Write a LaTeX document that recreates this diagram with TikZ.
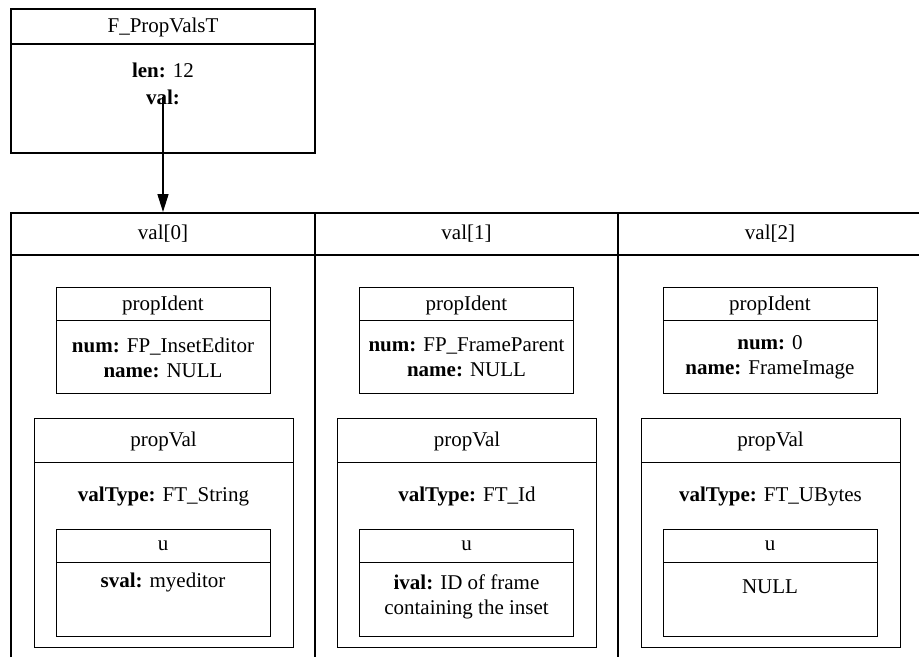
\documentclass[tikz,border=0pt]{standalone}
\usepackage{fontspec}
\setmainfont{Liberation Serif}
\usetikzlibrary{arrows.meta}
\begin{document}
\begin{tikzpicture}[x=1pt,y=-1pt]
\tikzstyle{arrow}=[draw,line width=1.5pt,-{Triangle[length=18pt,width=11pt]}]
\tikzstyle{outer}=[draw,line width=2.4pt]
\tikzstyle{inner}=[draw,line width=1pt]
\tikzstyle{txt}=[inner sep=0pt,align=center,font=\fontsize{21}{25}\selectfont]
\useasboundingbox (0,0) rectangle (919,657);
% the struct
\path[outer](11,9) rectangle (315,153);
\path[outer](11,44)--(315,44);
\node[txt](rec) at (163,27){F\_PropValsT};
\node[txt](len) at (163,70){\textbf{len:} 12};
\node[txt](valf) at (163,97){\textbf{val:}};
% the array
\path[outer](11,657)--(11,213)--(919,213);
\path[outer](11,255)--(919,255);
\path[outer](315,213)--(315,657);
\path[outer](618,213)--(618,657);
\foreach \i/\cx/\numv/\namev/\vtype/\uval/\uy in {
  0/163/FP\_InsetEditor/NULL/FT\_String/{\textbf{sval:} myeditor}/582,
  1/466.5/FP\_FrameParent/NULL/FT\_Id/{\textbf{ival:} ID of frame\\containing the inset}/597,
  2/770/0/FrameImage/FT\_UBytes/NULL/587}{
  \node[txt](head\i) at (\cx,234){val[\i]};
  % propIdent
  \path[inner](\cx-107,287) rectangle (\cx+107,393);
  \path[inner](\cx-107,320)--(\cx+107,320);
  \node[txt](ident\i) at (\cx,305){propIdent};
  \node[txt](identv\i) at (\cx,357.5){\textbf{num:} \numv\\\textbf{name:} \namev};
  % propVal
  \path[inner](\cx-129,418) rectangle (\cx+130,647);
  \path[inner](\cx-129,462)--(\cx+130,462);
  \node[txt](pval\i) at (\cx+0.5,441){propVal};
  \node[txt](vtype\i) at (\cx+0.5,496){\textbf{valType:} \vtype};
  % u
  \path[inner](\cx-107,529) rectangle (\cx+107,636);
  \path[inner](\cx-107,562)--(\cx+107,562);
  \node[txt](u\i) at (\cx,546){u};
  \node[txt](uv\i) at (\cx,\uy){\uval};
}
\path[arrow](valf.center)--(head0.north|-0,212);
\end{tikzpicture}
\end{document}
